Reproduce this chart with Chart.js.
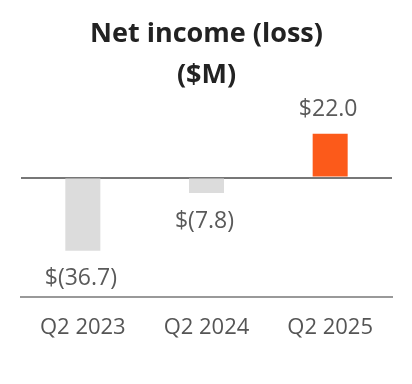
<!DOCTYPE html>
<html>
<head>
<meta charset="utf-8">
<script src="https://cdn.jsdelivr.net/npm/chart.js@4/dist/chart.umd.min.js"></script>
<style>
  html, body { margin: 0; padding: 0; background: #ffffff; }
  #wrap { width: 412px; height: 384px; position: relative; }
</style>
</head>
<body>
<div id="wrap"><canvas id="c"></canvas></div>
<script>
const categories = ['Q2 2023', 'Q2 2024', 'Q2 2025'];
const netIncome = [-36.7, -7.8, 22.0];
const valueLabels = ['$(36.7)', '$(7.8)', '$22.0'];
const barColors = ['#dcdcdc', '#dcdcdc', '#fc5a1a'];
const titleLines = ['Net income (loss)', '($M)'];

const FONT = "'Open Sans', 'Noto Sans', sans-serif";

const valueLabelPlugin = {
  id: 'valueLabels',
  afterDatasetsDraw(chart) {
    const ctx = chart.ctx;
    const meta = chart.getDatasetMeta(0);
    ctx.save();
    ctx.font = '400 23px ' + FONT;
    ctx.fillStyle = '#5a5a5a';
    ctx.textAlign = 'center';
    ctx.textBaseline = 'middle';
    meta.data.forEach((bar, i) => {
      const v = netIncome[i];
      const y = v >= 0 ? bar.y - 24 : bar.y + 28;
      ctx.fillText(valueLabels[i], bar.x - 2, y);
    });
    ctx.restore();
  }
};

new Chart(document.getElementById('c'), {
  type: 'bar',
  data: {
    labels: categories,
    datasets: [{
      data: netIncome,
      backgroundColor: barColors,
      borderWidth: 0,
      barPercentage: 0.283,
      categoryPercentage: 1.0
    }]
  },
  options: {
    responsive: true,
    maintainAspectRatio: false,
    animation: false,
    layout: { padding: { left: 21, right: 20, top: 0, bottom: 24.6 } },
    plugins: {
      legend: { display: false },
      tooltip: { enabled: false },
      title: {
        display: true,
        text: titleLines,
        color: '#222222',
        font: { family: FONT, size: 27, weight: '700', lineHeight: 41 / 27 },
        padding: { top: 14, bottom: 2 }
      }
    },
    scales: {
      x: {
        grid: { display: false, drawTicks: false },
        border: { display: true, color: '#999999', width: 2 },
        ticks: { color: '#555555', font: { family: FONT, size: 22 }, padding: 18 }
      },
      y: {
        min: -60,
        max: 40,
        ticks: { display: false, stepSize: 10 },
        border: { display: false },
        grid: {
          drawTicks: false,
          lineWidth: 2,
          color: (ctx) => (ctx.tick && ctx.tick.value === 0 ? '#777777' : 'rgba(0,0,0,0)')
        },
        afterFit(scale) { scale.width = 0; }
      }
    }
  },
  plugins: [valueLabelPlugin]
});
</script>
</body>
</html>
